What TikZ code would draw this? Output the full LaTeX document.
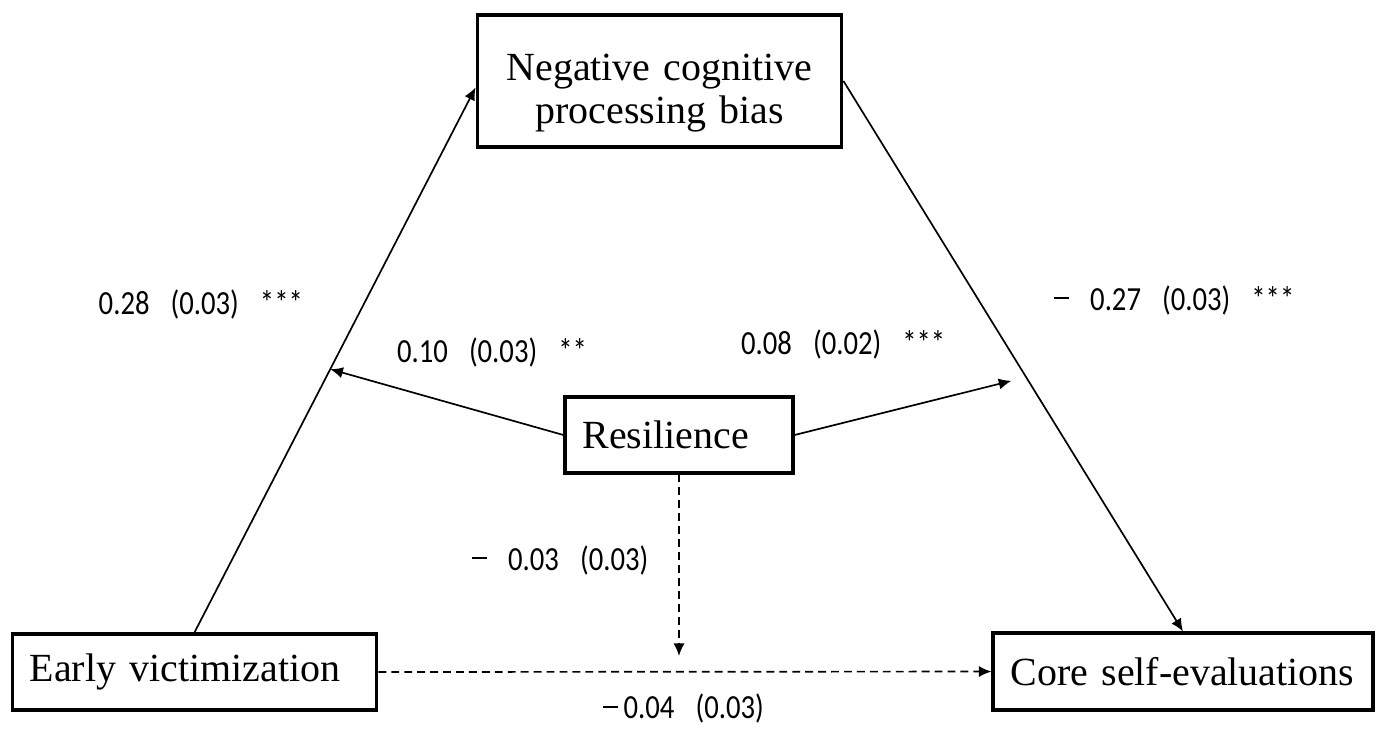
\documentclass[tikz,border=0pt]{standalone}
\usepackage{fontspec}
\usepackage{tikz}
\usetikzlibrary{arrows.meta,positioning,calc}
\setmainfont{Liberation Serif}
\newfontfamily\coeffont[FakeStretch=0.85]{Carlito}
\newcommand{\gap}{\hspace{7.5pt}}
\newcommand{\mns}{\rule[4pt]{5.5pt}{0.55pt}}

\begin{document}
\begin{tikzpicture}[
  var/.style={draw,line width=1.1pt,inner xsep=0.22cm,inner ysep=0pt,align=left,font=\fontsize{14.2}{15}\selectfont},
  coef/.style={font=\coeffont\fontsize{12}{14}\selectfont,inner sep=0pt},
  arr/.style={-{Latex[length=4.5pt,width=4pt]},line width=0.6pt},
  darr/.style={arr,dash pattern=on 2.8pt off 1.8pt},
]
\useasboundingbox (0,0) rectangle (17.25,-9.1125);

% 变量
\node[var,align=center,text width=4.12cm,minimum height=1.65cm] (ncpb) at (8.244,-1.0125) {\rule{0pt}{18pt}Negative cognitive\\processing bias};
\node[var,text width=2.41cm,minimum height=0.95cm] (res) at (8.4875,-5.4375) {Resilience};
\node[var,text width=4.12cm,minimum height=0.95cm] (ev) at (2.431,-8.4) {Early victimization};
\node[var,text width=4.31cm,minimum height=0.9625cm] (cse) at (14.7875,-8.394) {Core self-evaluations};

% 调节点
\coordinate (modA) at ($(ev.north)!0.483!([yshift=-0.08cm]ncpb.west)$);
\coordinate (modB) at ($(ncpb.east)!0.538!(cse.north)$);
\coordinate (modC) at (res.south |- ev.east);

% 边
\draw[arr] (ev.north) -- ([yshift=-0.08cm]ncpb.west);
\draw[arr] (ncpb.east) -- (cse.north);
\draw[arr] (res.west) -- (modA);
\draw[arr,shorten >=0.19cm] (res.east) -- (modB);
\draw[darr,shorten >=0.2cm] (res.south) -- (modC);
\draw[darr] (ev.east) -- (cse.west);

% 系数
\node[coef] (cA) at (2.51,-3.81) {0.28\gap(0.03)\gap***};
\node[coef] (cB) at (6.15,-4.40) {0.10\gap(0.03)\gap**};
\node[coef] (cC) at (10.54,-4.31) {0.08\gap(0.02)\gap***};
\node[coef] (cD) at (14.675,-3.75) {\mns\gap0.27\gap(0.03)\gap***};
\node[coef] (cE) at (7.0,-7.0) {\mns\gap0.03\gap(0.03)};
\node[coef] (cF) at (8.54,-8.86) {\mns\,0.04\gap(0.03)};

\end{tikzpicture}
\end{document}
